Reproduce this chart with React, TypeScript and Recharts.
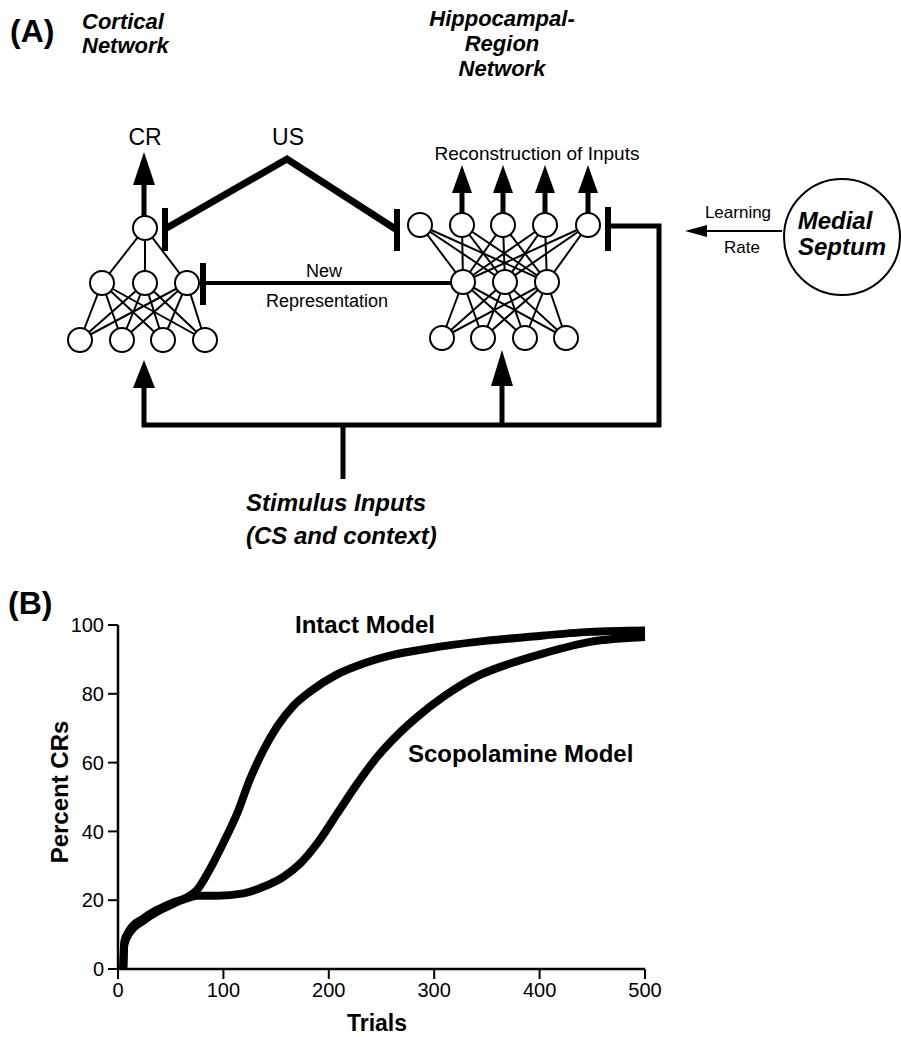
import { Line, LineChart, XAxis, YAxis } from "recharts"

const FONT = '"Liberation Sans", Arial, Helvetica, sans-serif'

// panel B, values
const intactTrials = [5, 6, 11, 24, 37, 52, 65, 75, 87, 100, 113, 125, 138, 151, 166, 182, 207, 233, 261, 293, 340, 388, 448, 500]
const intactValues = [0, 8, 11.3, 14.7, 17.2, 19.3, 20.8, 23, 28.9, 36.7, 45.2, 55, 63.6, 70.5, 76.4, 80.6, 85.5, 88.8, 91.3, 93.1, 95.1, 96.5, 98, 98.4]

const scopTrials = [5, 6, 11, 24, 37, 52, 65, 75, 94, 119, 138, 157, 173, 189, 208, 227, 246, 265, 284, 309, 340, 372, 403, 448, 500]
const scopValues = [0, 7, 10.5, 14, 16.6, 18.9, 20.5, 21.3, 21.3, 22, 23.9, 26.8, 30.7, 36.5, 45.2, 53.9, 61.7, 68, 73.3, 79.2, 85, 88.8, 91.7, 95.1, 96.5]

const trialTicks = [0, 100, 200, 300, 400, 500]
const percentTicks = [0, 20, 40, 60, 80, 100]

const intactData = intactTrials.map((trial, i) => ({ trial, value: intactValues[i] }))
const scopData = scopTrials.map((trial, i) => ({ trial, value: scopValues[i] }))

// panel A node layout
type Pt = [number, number]
const leftOut: Pt[] = [[145, 228]]
const leftHidden: Pt[] = [[102, 283], [145, 283], [187, 283]]
const leftIn: Pt[] = [[80, 340], [122, 340], [163, 340], [205, 340]]
const rightOut: Pt[] = [[420, 225], [462, 225], [503, 225], [545, 225], [588, 225]]
const rightHidden: Pt[] = [[463, 282], [505, 282], [547, 282]]
const rightIn: Pt[] = [[442, 338], [483, 338], [525, 338], [566, 338]]

function links(a: Pt[], b: Pt[]) {
  const out: JSX.Element[] = []
  a.forEach((p, i) =>
    b.forEach((q, j) => {
      out.push(<line key={`${p[0]}-${q[0]}-${i}-${j}`} x1={p[0]} y1={p[1]} x2={q[0]} y2={q[1]} stroke="#000" strokeWidth={2} />)
    })
  )
  return out
}

function nodes(pts: Pt[]) {
  return pts.map((p) => <circle key={`${p[0]}-${p[1]}`} cx={p[0]} cy={p[1]} r={12} fill="#fff" stroke="#000" strokeWidth={2} />)
}

function UpArrow({ x, tipY, baseY, endY, half = 10 }: { x: number; tipY: number; baseY: number; endY: number; half?: number }) {
  return (
    <g>
      <line x1={x} y1={endY} x2={x} y2={baseY} stroke="#000" strokeWidth={5} />
      <polygon points={`${x},${tipY} ${x - half},${baseY} ${x + half},${baseY}`} fill="#000" />
    </g>
  )
}

function Diagram() {
  const bi = { fontFamily: FONT, fontWeight: 700, fontStyle: "italic" as const, fontSize: 24 }
  const title = { ...bi, fontSize: 22 }
  const reg = { fontFamily: FONT, fontSize: 18 }
  return (
    <svg width={901} height={1037} style={{ position: "absolute", left: 0, top: 0 }}>
      <text x={10} y={42} fontFamily={FONT} fontWeight={700} fontSize={32}>(A)</text>
      <text x={82} y={29} {...title}>Cortical</text>
      <text x={82} y={53} {...title}>Network</text>
      <g textAnchor="middle">
        <text x={502} y={26} {...title}>Hippocampal-</text>
        <text x={502} y={51} {...title}>Region</text>
        <text x={502} y={76} {...title}>Network</text>
      </g>

      <text x={145} y={145} textAnchor="middle" fontFamily={FONT} fontSize={23}>CR</text>
      <text x={288} y={145} textAnchor="middle" fontFamily={FONT} fontSize={23}>US</text>
      <text x={537} y={160} textAnchor="middle" fontFamily={FONT} fontSize={19}>Reconstruction of Inputs</text>
      <text x={324} y={277} textAnchor="middle" {...reg}>New</text>
      <text x={327} y={307} textAnchor="middle" {...reg}>Representation</text>
      <text x={738} y={218} textAnchor="middle" fontFamily={FONT} fontSize={17}>Learning</text>
      <text x={742} y={253} textAnchor="middle" fontFamily={FONT} fontSize={17}>Rate</text>

      {/* US pathway */}
      <polyline points="165,229 287,159 397,230" fill="none" stroke="#000" strokeWidth={7} strokeLinejoin="miter" />
      <line x1={165} y1={208} x2={165} y2={251} stroke="#000" strokeWidth={6} />
      <line x1={397} y1={209} x2={397} y2={251} stroke="#000" strokeWidth={6} />

      {/* new representation */}
      <line x1={203} y1={283} x2={463} y2={283} stroke="#000" strokeWidth={4} />
      <line x1={203} y1={263} x2={203} y2={305} stroke="#000" strokeWidth={6} />

      {/* stimulus input bus */}
      <polyline points="142,425 661,425" fill="none" stroke="#000" strokeWidth={5} />
      <polyline points="608,226 659,226 659,427" fill="none" stroke="#000" strokeWidth={5} />
      <line x1={608} y1={207} x2={608} y2={251} stroke="#000" strokeWidth={6} />
      <line x1={343} y1={425} x2={343} y2={479} stroke="#000" strokeWidth={5} />
      <UpArrow x={144} tipY={360} baseY={388} endY={427} half={11} />
      <UpArrow x={502} tipY={350} baseY={386} endY={427} half={11} />

      <UpArrow x={144} tipY={152} baseY={185} endY={217} half={11} />
      {rightOut.slice(1).map((p) => (
        <UpArrow key={p[0]} x={p[0]} tipY={165} baseY={193} endY={213} half={10} />
      ))}

      {links(leftOut, leftHidden)}
      {links(leftHidden, leftIn)}
      {links(rightOut, rightHidden)}
      {links(rightHidden, rightIn)}
      {nodes(leftOut)}
      {nodes(leftHidden)}
      {nodes(leftIn)}
      {nodes(rightOut)}
      {nodes(rightHidden)}
      {nodes(rightIn)}

      {/* medial septum */}
      <line x1={782} y1={231} x2={704} y2={231} stroke="#000" strokeWidth={2} />
      <polygon points="685,231 707,225 707,237" fill="#000" />
      <circle cx={842} cy={237} r={58} fill="#fff" stroke="#000" strokeWidth={2} />
      <text x={835} y={229} textAnchor="middle" {...bi}>Medial</text>
      <text x={842} y={255} textAnchor="middle" {...bi}>Septum</text>

      <text x={246} y={511} {...bi}>Stimulus Inputs</text>
      <text x={246} y={544} {...bi}>(CS and context)</text>

      {/* panel B text */}
      <text x={8} y={614} fontFamily={FONT} fontWeight={700} fontSize={32}>(B)</text>
      <text x={365} y={633} textAnchor="middle" fontFamily={FONT} fontWeight={700} fontSize={24}>Intact Model</text>
      <text x={408} y={762} fontFamily={FONT} fontWeight={700} fontSize={24}>Scopolamine Model</text>
      <text x={68} y={792} textAnchor="middle" transform="rotate(-90 68 792)" fontFamily={FONT} fontWeight={700} fontSize={24}>Percent CRs</text>
      <text x={377} y={1031} textAnchor="middle" fontFamily={FONT} fontWeight={700} fontSize={23}>Trials</text>
    </svg>
  )
}

export default function App() {
  const tick = { fill: "#000", fontSize: 20, fontFamily: FONT }
  return (
    <div style={{ position: "absolute", left: 0, top: 0, width: 901, height: 1037, background: "#fff", overflow: "hidden" }}>
      <Diagram />
      <div style={{ position: "absolute", left: 0, top: 560 }}>
        <LineChart width={901} height={477} margin={{ top: 65, right: 256, bottom: 28, left: 58 }}>
          <XAxis
            type="number"
            dataKey="trial"
            domain={[0, 500]}
            ticks={trialTicks}
            allowDuplicatedCategory={false}
            height={40}
            tick={tick}
            tickSize={10}
            tickMargin={4}
            axisLine={{ stroke: "#000", strokeWidth: 2.5 }}
            tickLine={{ stroke: "#000", strokeWidth: 2 }}
          />
          <YAxis
            type="number"
            dataKey="value"
            domain={[0, 100]}
            ticks={percentTicks}
            width={60}
            tick={tick}
            tickSize={10}
            tickMargin={4}
            axisLine={{ stroke: "#000", strokeWidth: 2.5 }}
            tickLine={{ stroke: "#000", strokeWidth: 2 }}
          />
          <Line data={scopData} dataKey="value" type="monotone" stroke="#000" strokeWidth={8} dot={false} isAnimationActive={false} />
          <Line data={intactData} dataKey="value" type="monotone" stroke="#000" strokeWidth={8} dot={false} isAnimationActive={false} />
        </LineChart>
      </div>
    </div>
  )
}
